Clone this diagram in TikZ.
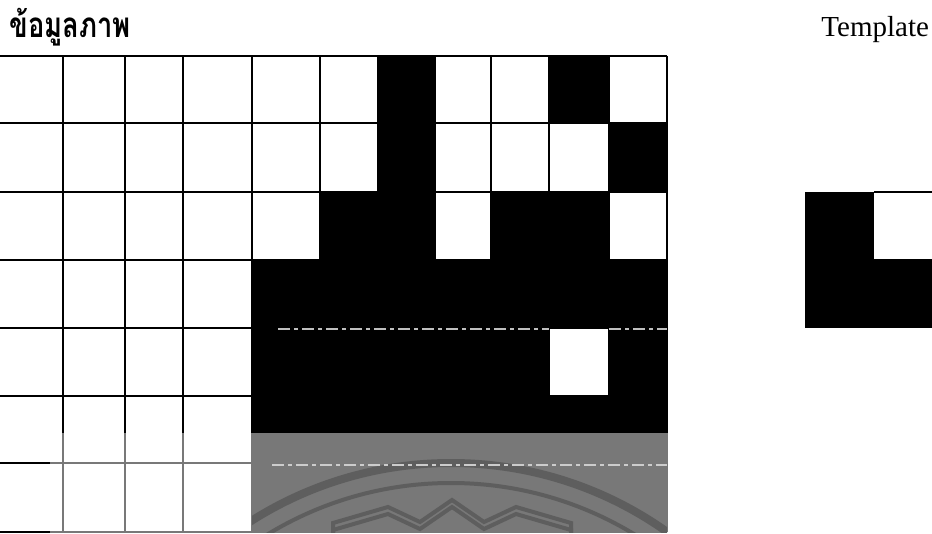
\documentclass[tikz,border=0pt]{standalone}
\usepackage{fontspec}
\setmainfont{Liberation Serif}
\newfontfamily\thaifont[Script=Thai, FakeStretch=0.78]{Loma}
\usepackage{xcolor}
\usetikzlibrary{positioning}

\begin{document}
\begin{tikzpicture}[x=0.5pt, y=-0.5pt,
    gridline/.style={line width=1pt},
    scanline/.style={line width=0.6pt, dash pattern=on 6pt off 2pt on 2pt off 2pt},
    wmark/.style={draw=black!63, line width=2pt}]
  \useasboundingbox (0,0) rectangle (932,534);
  \clip (0,0) rectangle (932,534);

  \node[anchor=base west, inner sep=0pt,
        font=\thaifont\bfseries\fontsize{17.5}{20}\selectfont] (imgtitle)
        at (9,38) {ข้อมูลภาพ};
  \node[anchor=base west, inner sep=0pt,
        font=\fontsize{14.5}{17}\selectfont] (tpltitle)
        at (821,37) {Template};

  % black pixels of the image
  \fill (378,56) rectangle (435,260);
  \fill (549,56) rectangle (609,123);
  \fill (609,123) rectangle (667,192);
  \fill (320,192) rectangle (378,260);
  \fill (491,192) rectangle (609,260);
  \fill (252,260) rectangle (667,532);
  \fill[white] (549,328) rectangle (609,396);

  % grid
  \foreach \x in {63,125,183,252,320,378,435,491,549,609,667}
    \draw[gridline] (\x,56) -- (\x,532);
  \foreach \y in {56,123,192,260,328,396,463,532}
    \draw[gridline] (0,\y) -- (667,\y);
  \draw[scanline, black!25] (278,329) -- (549,329) (609,329) -- (667,329);

  % template
  \fill (805,192) rectangle (941,328);
  \fill[white] (874,192) rectangle (941,259);
  \draw[gridline] (874,192) -- (941,192);

  % faded lower part with the watermark
  \fill[white, opacity=0.47] (50,433) rectangle (700,534);
  \begin{scope}
    \clip (252,433) rectangle (667,532);
    \draw[wmark, line width=4pt] (451,836) circle[radius=373];
    \draw[wmark] (451,836) circle[radius=353];
    \foreach \dy in {0,7}
      \draw[wmark, yshift=-\dy*0.5pt] (333,545) -- (333,523) -- (388,507) -- (420,522)
        -- (452,500) -- (484,522) -- (516,507) -- (571,523) -- (571,545);
  \end{scope}
  \draw[scanline, black!20] (272,465) -- (667,465);
\end{tikzpicture}
\end{document}
